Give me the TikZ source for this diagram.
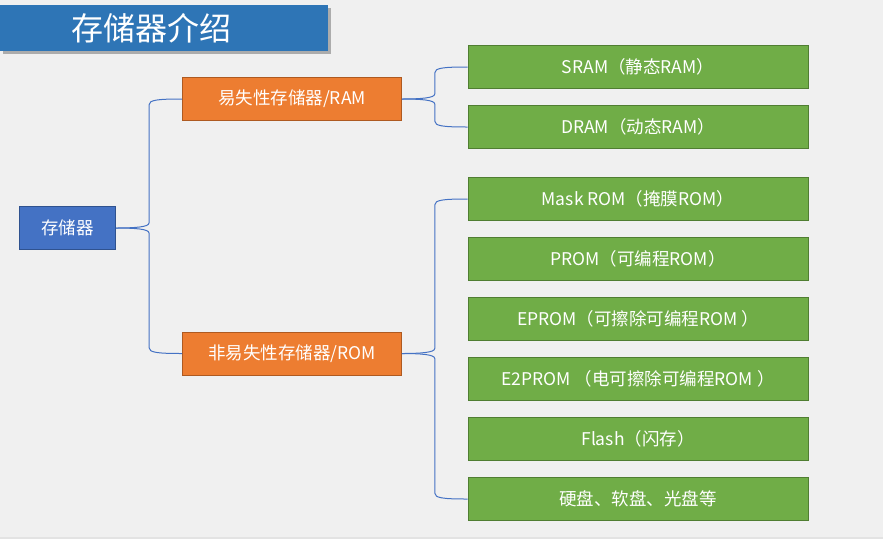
\documentclass[tikz,border=0pt]{standalone}
\usepackage{fontspec}
\setmainfont{Noto Sans CJK SC}
\usetikzlibrary{calc}

\definecolor{bggray}{HTML}{F0F0F0}
\definecolor{titleblue}{HTML}{2E75B6}
\definecolor{memblue}{HTML}{4472C4}
\definecolor{memblueline}{HTML}{2F528F}
\definecolor{typeorange}{HTML}{ED7D31}
\definecolor{typeorangeline}{HTML}{AE5A21}
\definecolor{chipgreen}{HTML}{70AD47}
\definecolor{chipgreenline}{HTML}{507E32}
\definecolor{linkblue}{HTML}{4472C4}

\tikzset{
  box/.style={draw, line width=0.9pt, text=white, inner sep=0pt,
    minimum height=43pt, font=\fontsize{17.5}{20}\selectfont},
  membox/.style={box, fill=memblue, draw=memblueline, minimum width=96pt},
  typebox/.style={box, fill=typeorange, draw=typeorangeline, minimum width=219pt},
  chipbox/.style={box, fill=chipgreen, draw=chipgreenline, minimum width=340pt},
  % curly bracket from parent to child
  brace/.style={to path={let \p1=(\tikztostart), \p2=(\tikztotarget),
      \n1={0.5*(\x1+\x2)}, \n2={ifthenelse(\y2>\y1,1,-1)} in
      (\p1) .. controls ({\n1-14},\y1) and (\n1,{\y1+\n2*1pt}) .. (\n1,{\y1+\n2*5pt})
      -- (\n1,{\y2-\n2*6pt})
      .. controls (\n1,{\y2-\n2*1pt}) and ({\n1+8},\y2) .. (\p2)}},
  link/.style={color=linkblue, line width=1pt, brace}
}

\begin{document}
\begin{tikzpicture}[x=1pt,y=-1pt]
  \useasboundingbox (0,0) rectangle (883,539);
  \fill[bggray] (0,0) rectangle (883,539);
  \fill[gray!22] (0,536.5) rectangle (883,539);

  % title bar
  \fill[gray!65] (2.5,7.5) rectangle (330.5,53.5);
  \node (title) [fill=titleblue, text=white, inner sep=0pt,
    minimum width=328pt, minimum height=45.5pt,
    font=\fontsize{32}{36}\selectfont] at (164,28) {存储器介绍\kern26pt};

  \node (mem) [membox] at (67.5,228) {存储器};

  \node (ram) [typebox] at (292,99) {易失性存储器/RAM};
  \node (rom) [typebox] at (292,353.5) {非易失性存储器/ROM};

  \node (sram)  [chipbox] at (638,67)  {SRAM（静态RAM）};
  \node (dram)  [chipbox] at (638,127) {DRAM（动态RAM）};
  \node (mask)  [chipbox] at (638,199) {Mask ROM（掩膜ROM）};
  \node (prom)  [chipbox] at (638,259) {PROM（可编程ROM）};
  \node (eprom) [chipbox] at (638,319) {EPROM（可擦除可编程ROM ）};
  \node (eeprom)[chipbox] at (638,379) {E2PROM （电可擦除可编程ROM ）};
  \node (flash) [chipbox] at (638,439) {Flash（闪存）};
  \node (disk)  [chipbox] at (638,499) {硬盘、软盘、光盘等};

  \path[link]
    (mem.east) edge (ram.west)
               edge (rom.west)
    (ram.east) edge (sram.west)
               edge (dram.west)
    (rom.east) edge (mask.west)
               edge (disk.west);
\end{tikzpicture}
\end{document}
